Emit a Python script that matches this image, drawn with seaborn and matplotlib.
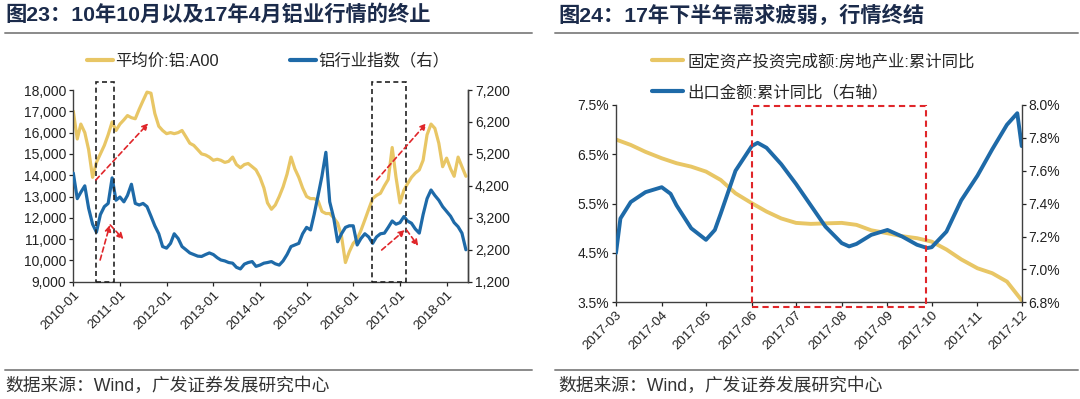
import numpy as np
import pandas as pd
import matplotlib
matplotlib.use("Agg")
import matplotlib.pyplot as plt
import matplotlib.dates as mdates
from matplotlib.patches import Rectangle
from matplotlib.lines import Line2D
from matplotlib.ticker import FuncFormatter, FixedLocator
import seaborn as sns

# ---------------- data ----------------
# Left panel: monthly values, 2010-01 .. 2018-06
left_start = "2010-01-01"
alu_price = [17000, 15700, 16400, 16000, 15200, 13900, 14600, 15000, 15400, 15900,
             16500, 16100, 16400, 16600, 16800, 16700, 16650, 17100, 17500, 17900,
             17850, 16900, 16300, 16100, 15950, 16000, 15950, 16000, 16100, 15800,
             15500, 15400, 15200, 15000, 14950, 14850, 14700, 14750, 14700, 14600,
             14650, 14850, 14500, 14350, 14500, 14550, 14400, 14250, 13900, 13400,
             12700, 12400, 12600, 13000, 13450, 14050, 14850, 14300, 13900, 13400,
             13000, 12900, 12900, 12800, 12300, 12200, 12200, 12000, 11750, 11150,
             9900, 10400, 10800, 11000, 11400, 11900, 12400, 12900, 13050, 13150,
             13500, 13800, 15300, 13900, 12700, 13300, 13600, 13900, 14100, 14250,
             14700, 15900, 16400, 16200, 15500, 14400, 14800, 14300, 13950, 14850,
             14400, 13950]
alu_index = [4600, 3800, 4000, 4200, 3500, 3000, 2750, 3300, 3550, 3650,
             4450, 3750, 3850, 3700, 3900, 4250, 3650, 3600, 3650, 3550,
             3250, 2950, 2700, 2300, 2250, 2400, 2700, 2550, 2300, 2200,
             2100, 2050, 2000, 1990, 2050, 2100, 2050, 1950, 1880, 1850,
             1800, 1780, 1650, 1600, 1750, 1800, 1830, 1680, 1720, 1780,
             1800, 1830, 1760, 1720, 1850, 2050, 2300, 2350, 2400, 2700,
             2900, 2820, 3300, 3900, 4500, 5250, 3700, 3200, 2450, 2700,
             2900, 2950, 2950, 2350, 2550, 2700, 2600, 2400, 2600, 2700,
             2720, 2900, 3100, 3000, 3050, 3240, 3100, 3030, 2850, 2720,
             3300, 3800, 4070, 3900, 3750, 3550, 3400, 3250, 3050, 2920,
             2720, 2200]
left_ticks = ["2010-01", "2011-01", "2012-01", "2013-01", "2014-01",
              "2015-01", "2016-01", "2017-01", "2018-01"]
left_labels = ["平均价:铝:A00", "铝行业指数（右）"]

# Right panel
re_dates = ["2017-03-01", "2017-03-11", "2017-03-21", "2017-04-01", "2017-04-11",
            "2017-04-21", "2017-05-01", "2017-05-11", "2017-05-21", "2017-06-01",
            "2017-06-11", "2017-06-21", "2017-07-01", "2017-07-11", "2017-07-21",
            "2017-08-01", "2017-08-11", "2017-08-21", "2017-09-01", "2017-09-11",
            "2017-09-21", "2017-10-01", "2017-10-11", "2017-10-21", "2017-11-01",
            "2017-11-11", "2017-11-21", "2017-12-01"]
re_invest = [6.80, 6.69, 6.55, 6.42, 6.32, 6.25, 6.15, 5.98, 5.71, 5.51,
             5.34, 5.20, 5.11, 5.09, 5.10, 5.11, 5.07, 4.96, 4.90, 4.84,
             4.80, 4.73, 4.57, 4.37, 4.19, 4.09, 3.92, 3.54]
ex_dates = ["2017-03-01", "2017-03-04", "2017-03-11", "2017-03-21", "2017-04-01",
            "2017-04-07", "2017-04-11", "2017-04-21", "2017-05-01", "2017-05-07",
            "2017-05-11", "2017-05-21", "2017-06-01", "2017-06-05", "2017-06-11",
            "2017-06-21", "2017-07-01", "2017-07-11", "2017-07-21", "2017-08-01",
            "2017-08-06", "2017-08-11", "2017-08-21", "2017-09-01", "2017-09-11",
            "2017-09-21", "2017-09-28", "2017-10-01", "2017-10-11", "2017-10-21",
            "2017-11-01", "2017-11-11", "2017-11-21", "2017-11-28", "2017-12-01"]
export_yoy = [7.10, 7.31, 7.41, 7.47, 7.50, 7.46, 7.39, 7.25, 7.18, 7.24,
              7.34, 7.60, 7.75, 7.77, 7.74, 7.64, 7.52, 7.39, 7.26, 7.16,
              7.14, 7.155, 7.21, 7.24, 7.20, 7.15, 7.13, 7.135, 7.23, 7.42,
              7.57, 7.73, 7.88, 7.95, 7.75]
right_ticks = ["2017-03", "2017-04", "2017-05", "2017-06", "2017-07",
               "2017-08", "2017-09", "2017-10", "2017-11", "2017-12"]
right_labels = ["固定资产投资完成额:房地产业:累计同比", "出口金额:累计同比（右轴）"]

titles = ["图23：10年10月以及17年4月铝业行情的终止", "图24：17年下半年需求疲弱，行情终结"]
source = "数据来源：Wind，广发证券发展研究中心"

# ---------------- style ----------------
sns.set_theme(style="white")
plt.rcParams["font.family"] = ["Liberation Sans", "Noto Sans CJK SC", "DejaVu Sans"]
plt.rcParams["axes.unicode_minus"] = False

YELLOW = "#E8C665"
BLUE = "#1E6AA8"
RED = "#E0262A"
NAVY = "#1B2B4B"
SPINE = "#404040"
W, H = 1080, 399


def fx(x):
    return x / W


def fy(y):
    return 1 - y / H


fig = plt.figure(figsize=(10.8, 3.99), dpi=100)
fig.patch.set_facecolor("white")

# ---------------- left panel ----------------
ax1 = fig.add_axes([fx(73.3), fy(281.7), fx(468) - fx(73.3), fy(90) - fy(281.7)])
ax1r = ax1.twinx()
ldates = pd.date_range(left_start, periods=len(alu_price), freq="MS")
dfl = pd.DataFrame({"date": ldates, "price": alu_price, "index": alu_index})
sns.lineplot(data=dfl, x="date", y="price", ax=ax1, color=YELLOW, linewidth=2.3)
sns.lineplot(data=dfl, x="date", y="index", ax=ax1r, color=BLUE, linewidth=2.3)

base = mdates.date2num(pd.Timestamp(left_start))


def mpos(m):
    return base + m * 30.4375


ax1.set_xlim(mpos(0), mpos(101.5))
ax1.set_ylim(9000, 18000)
ax1r.set_ylim(1200, 7200)
ax1.yaxis.set_major_locator(FixedLocator(np.arange(9000, 18001, 1000)))
ax1r.yaxis.set_major_locator(FixedLocator(np.arange(1200, 7201, 1000)))
comma = FuncFormatter(lambda v, p: f"{int(v):,}")
ax1.yaxis.set_major_formatter(comma)
ax1r.yaxis.set_major_formatter(comma)
ax1.set_xticks([mdates.date2num(pd.Timestamp(t + "-01")) for t in left_ticks])
ax1.set_xticklabels(left_ticks, rotation=45, ha="right", rotation_mode="anchor")

# dashed black boxes
for m0, m1 in [(5.8, 10.5), (76.7, 85.5)]:
    ax1r.add_patch(Rectangle((mpos(m0), 1200), mpos(m1) - mpos(m0), 7460 - 1200,
                             fill=False, ec="#222222", lw=1.2, ls=(0, (3, 2)),
                             clip_on=False, zorder=5))
# red dashed arrows
arrows = [((5.8, 4383), (19.3, 6158)), ((6.9, 1879), (9.4, 2975)),
          ((9.5, 2975), (12.9, 2527)), ((78.0, 4383), (90.8, 6158)),
          ((79.3, 2192), (85.3, 2818)), ((85.7, 2818), (88.7, 2317))]
for (m0, v0), (m1, v1) in arrows:
    ax1r.annotate("", xy=(mpos(m1), v1), xytext=(mpos(m0), v0),
                  arrowprops=dict(arrowstyle="-|>", color=RED, lw=1.2,
                                  ls=(0, (3, 2)), mutation_scale=9,
                                  shrinkA=0, shrinkB=0), zorder=6)

# ---------------- right panel ----------------
ax2 = fig.add_axes([fx(616), fy(302.3), fx(1021.7) - fx(616), fy(105) - fy(302.3)])
ax2r = ax2.twinx()
dfr1 = pd.DataFrame({"date": pd.to_datetime(re_dates), "v": re_invest})
dfr2 = pd.DataFrame({"date": pd.to_datetime(ex_dates), "v": export_yoy})
sns.lineplot(data=dfr1, x="date", y="v", ax=ax2, color=YELLOW, linewidth=2.8)
sns.lineplot(data=dfr2, x="date", y="v", ax=ax2r, color=BLUE, linewidth=2.8)
rt = [mdates.date2num(pd.Timestamp(t + "-01")) for t in right_ticks]
ax2.set_xlim(rt[0], rt[-1])
ax2.set_ylim(3.5, 7.5)
ax2r.set_ylim(6.8, 8.0)
ax2.yaxis.set_major_locator(FixedLocator(np.arange(3.5, 7.51, 1.0)))
ax2r.yaxis.set_major_locator(FixedLocator(np.arange(6.8, 8.01, 0.2)))
pct = FuncFormatter(lambda v, p: f"{v:.1f}%")
ax2.yaxis.set_major_formatter(pct)
ax2r.yaxis.set_major_formatter(pct)
ax2.set_xticks(rt)
ax2.set_xticklabels(right_ticks, rotation=45, ha="right", rotation_mode="anchor")

d0 = mdates.date2num(pd.Timestamp("2017-06-01"))
d1 = mdates.date2num(pd.Timestamp("2017-09-27"))
ax2r.add_patch(Rectangle((d0, 6.7735), d1 - d0, 7.994 - 6.7735, fill=False, ec=RED,
                         lw=1.5, ls=(0, (3, 2)), clip_on=False, zorder=5))

# ---------------- common axis styling ----------------
for a in (ax1, ax1r, ax2, ax2r):
    a.set_xlabel("")
    a.set_ylabel("")
    a.grid(False)
    a.set_facecolor("none")
    a.spines["top"].set_visible(False)
    for s in ("left", "right", "bottom"):
        a.spines[s].set_color(SPINE)
        a.spines[s].set_linewidth(1.0)
    a.tick_params(axis="both", which="major", labelsize=10, colors="#222222",
                  length=3, width=0.9, direction="out", pad=2)
for a in (ax1, ax2):
    a.tick_params(left=True, bottom=True)
for a in (ax1r, ax2r):
    a.tick_params(right=True)
ax2.spines["right"].set_visible(False)
ax2r.spines["left"].set_visible(False)
ax2r.spines["bottom"].set_visible(False)
ax1r.spines["left"].set_visible(False)
ax1r.spines["bottom"].set_visible(False)
for lab in ax1.get_xticklabels() + ax2.get_xticklabels():
    lab.set_fontsize(9.5)

# ---------------- legends ----------------
h_y = Line2D([], [], color=YELLOW, lw=3)
h_b = Line2D([], [], color=BLUE, lw=3)
fig.legend([h_y, h_b], left_labels, ncol=2, loc="center",
           bbox_to_anchor=(fx(268), fy(61)), frameon=False, fontsize=11.8,
           handlelength=1.6, handletextpad=0.15, columnspacing=4.3,
           borderpad=0, borderaxespad=0)
fig.legend([h_y, h_b], right_labels, ncol=1, loc="upper left",
           bbox_to_anchor=(fx(652), fy(53)), frameon=False, fontsize=11.8,
           handlelength=1.9, handletextpad=0.25, labelspacing=0.95,
           borderpad=0, borderaxespad=0)

# ---------------- titles, separators, sources ----------------
for x0, x1, tx, title in [(5, 532, 5, titles[0]), (555, 1078, 558, titles[1])]:
    fig.text(fx(tx), fy(15), title, fontsize=15.3, fontweight="bold", color=NAVY,
             ha="left", va="center")
    fig.add_artist(Line2D([fx(x0), fx(x1)], [fy(32.5), fy(32.5)],
                          transform=fig.transFigure, color="#8a8a8a", lw=1.4))
    fig.add_artist(Line2D([fx(x0), fx(x1)], [fy(370), fy(370)],
                          transform=fig.transFigure, color="#8a8a8a", lw=1.4))
    fig.text(fx(tx), fy(386), source, fontsize=12.8, color="#333333",
             ha="left", va="center")

fig.savefig("out.png", dpi=100, facecolor="white")
